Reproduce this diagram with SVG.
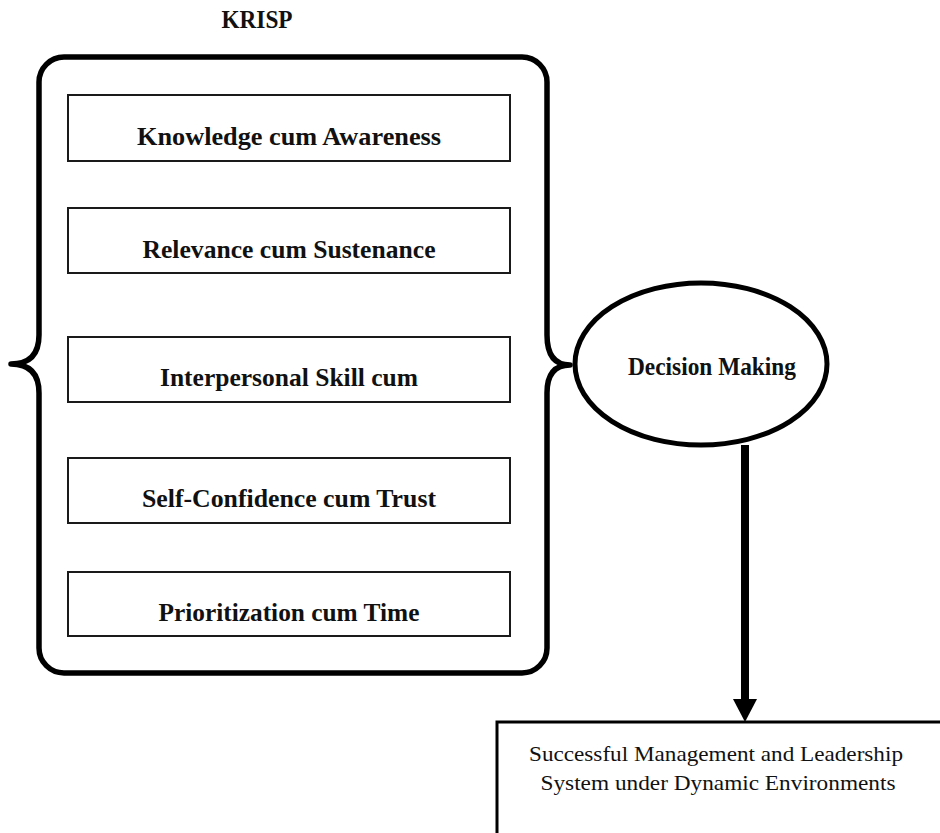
<svg xmlns="http://www.w3.org/2000/svg" width="940" height="833" viewBox="0 0 940 833">
<style>
.bx{fill:#fff;stroke:#1a1a1a;stroke-width:2}
.bt{font-family:"Liberation Serif",serif;font-weight:bold;font-size:25px;fill:#111;text-anchor:middle}
.nt{font-family:"Liberation Serif",serif;font-size:22px;fill:#111;text-anchor:middle}
.thick{fill:none;stroke:#000;stroke-width:5.5;stroke-linejoin:round}
</style>
<rect width="940" height="833" fill="#fff"/>
<g id="krisp-label">
<text class="bt" x="257" y="28" font-size="22" textLength="71" lengthAdjust="spacingAndGlyphs">KRISP</text>
</g>
<g id="krisp-brace">
<path class="thick" d="M39,335 L39,82 A25,25 0 0 1 64,57 L522,57 A25,25 0 0 1 547,82 L547,335 Q547,365 570,365 Q547,365 547,393 L547,648 A25,25 0 0 1 522,673 L64,673 A25,25 0 0 1 39,648 L39,393 Q39,364 11,364 Q39,364 39,335 Z"/>
</g>
<g id="box-knowledge">
<rect class="bx" x="68" y="95" width="442" height="66"/>
<text class="bt" x="289" y="145" textLength="304" lengthAdjust="spacingAndGlyphs">Knowledge cum Awareness</text>
</g>
<g id="box-relevance">
<rect class="bx" x="68" y="208" width="442" height="65"/>
<text class="bt" x="289" y="258" textLength="293" lengthAdjust="spacingAndGlyphs">Relevance cum Sustenance</text>
</g>
<g id="box-interpersonal">
<rect class="bx" x="68" y="337" width="442" height="65"/>
<text class="bt" x="289" y="386" textLength="258" lengthAdjust="spacingAndGlyphs">Interpersonal Skill cum</text>
</g>
<g id="box-selfconfidence">
<rect class="bx" x="68" y="458" width="442" height="65"/>
<text class="bt" x="289" y="507" textLength="294" lengthAdjust="spacingAndGlyphs">Self-Confidence cum Trust</text>
</g>
<g id="box-prioritization">
<rect class="bx" x="68" y="572" width="442" height="64"/>
<text class="bt" x="289" y="621" textLength="261" lengthAdjust="spacingAndGlyphs">Prioritization cum Time</text>
</g>
<g id="decision-making">
<ellipse cx="701" cy="364" rx="126" ry="81" fill="#fff" stroke="#000" stroke-width="5"/>
<text class="bt" x="712" y="375" font-size="22" textLength="168" lengthAdjust="spacingAndGlyphs">Decision Making</text>
</g>
<g id="outcome">
<path d="M497,833 L497,722 L940,722" fill="none" stroke="#000" stroke-width="3"/>
<text class="nt" x="716" y="761" textLength="374" lengthAdjust="spacingAndGlyphs">Successful Management and Leadership</text>
<text class="nt" x="718" y="790" textLength="355" lengthAdjust="spacingAndGlyphs">System under Dynamic Environments</text>
</g>
<g id="connectors">
<line x1="745" y1="445" x2="745" y2="701" stroke="#000" stroke-width="8"/>
<polygon points="733,699 757,699 745,722" fill="#000"/>
</g>
</svg>
